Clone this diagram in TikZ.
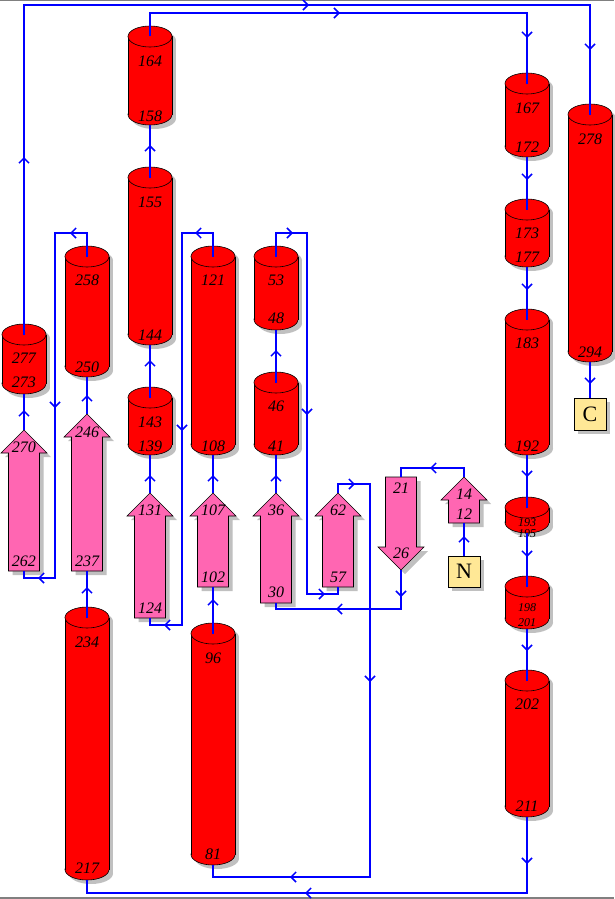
\documentclass[tikz,border=0pt]{standalone}
\usepackage{fontspec}
\setmainfont{Liberation Serif}
\usetikzlibrary{arrows.meta,calc}
\definecolor{hred}{RGB}{255,0,0}
\definecolor{spink}{RGB}{255,102,178}
\definecolor{tbox}{RGB}{255,232,150}
\definecolor{shd}{RGB}{192,192,192}
\tikzset{
  conn/.style={draw=blue,line width=1.5pt},
  tipar/.style={conn,-{Straight Barb[length=5pt,width=10pt]}},
  outl/.style={draw=black,line width=0.6pt},
  lbl/.style={font=\fontsize{16}{16}\selectfont\itshape,inner sep=0pt},
  slbl/.style={font=\fontsize{12}{12}\selectfont\itshape,inner sep=0pt},
  tbx/.style={draw=black,line width=0.6pt,fill=tbox,minimum width=32pt,minimum height=31pt,inner sep=0pt,font=\fontsize{22}{22}\selectfont},
}
% helix: name, x, top, bottom, top text, y, bottom text, y, label style
\newcommand\hlx[9]{%
  \begin{scope}[shift={(4,4)}]
    \fill[shd] (#2-22,#3+10.5) rectangle (#2+22,#4-10.5);
    \fill[shd] (#2,#4-10.5) ellipse[x radius=22,y radius=10.5];
    \fill[shd] (#2,#3+10.5) ellipse[x radius=22,y radius=10.5];
  \end{scope}
  \filldraw[fill=hred,outl] (#2,#4-10.5) ellipse[x radius=22,y radius=10.5];
  \fill[hred] (#2-22,#3+10.5) rectangle (#2+22,#4-10.5);
  \draw[outl] (#2-22,#3+10.5) -- (#2-22,#4-10.5) (#2+22,#3+10.5) -- (#2+22,#4-10.5);
  \filldraw[fill=hred,outl] (#2,#3+10.5) ellipse[x radius=22,y radius=10.5];
  \coordinate (#1-top) at (#2,#3+10.5);
  \coordinate (#1-bot) at (#2,#4);
  \node[#9] (#1-a) at (#2,#6) {#5};
  \node[#9] (#1-b) at (#2,#8) {#7};
}
% up strand: name, x, tip, head base, bottom, top text, y, bottom text, y
\newcommand\strandU[9]{%
  \fill[shd,shift={(4,4)}] (#2-15.5,#5) -- (#2-15.5,#4) -- (#2-23,#4) -- (#2,#3) -- (#2+23,#4) -- (#2+15.5,#4) -- (#2+15.5,#5) -- cycle;
  \filldraw[fill=spink,outl] (#2-15.5,#5) -- (#2-15.5,#4) -- (#2-23,#4) -- (#2,#3) -- (#2+23,#4) -- (#2+15.5,#4) -- (#2+15.5,#5) -- cycle;
  \coordinate (#1-top) at (#2,#3);
  \coordinate (#1-bot) at (#2,#5);
  \node[lbl] (#1-a) at (#2,#7) {#6};
  \node[lbl] (#1-b) at (#2,#9) {#8};
}
\newcommand\arU[2]{\draw[tipar] (#1,#2+6) -- (#1,#2);}
\newcommand\arD[2]{\draw[tipar] (#1,#2-6) -- (#1,#2);}
\newcommand\arL[2]{\draw[tipar] (#1+6,#2) -- (#1,#2);}
\newcommand\arR[2]{\draw[tipar] (#1-6,#2) -- (#1,#2);}
\begin{document}
\begin{tikzpicture}[x=1pt,y=-1pt]
\useasboundingbox (0,0) rectangle (614,899);
\fill[white] (0,0) rectangle (614,899);
\draw[gray,line width=1.2pt] (0,0.6) -- (614,0.6);
\draw[gray,line width=1.2pt] (0,898) -- (614,898);

% helices
\hlx{h164}{150}{26}{125}{164}{61}{158}{116}{lbl}
\hlx{h155}{150}{167}{345}{155}{202}{144}{335}{lbl}
\hlx{h143}{150}{387}{455}{143}{422}{139}{446}{lbl}
\hlx{h277}{24}{324}{394}{277}{358}{273}{382}{lbl}
\hlx{h258}{87}{246}{377}{258}{280}{250}{367}{lbl}
\hlx{h234}{87}{607}{880}{234}{642}{217}{868}{lbl}
\hlx{h121}{213}{246}{455}{121}{280}{108}{446}{lbl}
\hlx{h96}{213}{623}{865}{96}{658}{81}{854}{lbl}
\hlx{h53}{276}{246}{330}{53}{280}{48}{318}{lbl}
\hlx{h46}{276}{372}{455}{46}{406}{41}{446}{lbl}
\hlx{h167}{527}{73}{157}{167}{108}{172}{147}{lbl}
\hlx{h173}{527}{199}{267}{173}{233}{177}{257}{lbl}
\hlx{h183}{527}{309}{455}{183}{343}{192}{446}{lbl}
\hlx{h193}{527}{497}{533}{193}{523}{195}{534}{slbl}
\hlx{h198}{527}{576}{629}{198}{608}{201}{623}{slbl}
\hlx{h202}{527}{670}{817}{202}{704}{211}{806}{lbl}
\hlx{h278}{590}{104}{362}{278}{139}{294}{352}{lbl}

% strands
\strandU{s270}{24}{430}{453}{571}{270}{447}{262}{561}
\strandU{s246}{87}{414}{437}{571}{246}{432}{237}{561}
\strandU{s131}{150}{493}{516}{618}{131}{510}{124}{608}
\strandU{s107}{213}{493}{516}{587}{107}{510}{102}{577}
\strandU{s36}{276}{493}{516}{603}{36}{510}{30}{592}
\strandU{s62}{338}{493}{516}{587}{62}{510}{57}{577}
\strandU{s14}{464}{477}{500}{523}{14}{494}{12}{514}
% down strand 21-26
\fill[shd,shift={(4,4)}] (385.5,477) -- (416.5,477) -- (416.5,547) -- (424,547) -- (401,570) -- (378,547) -- (385.5,547) -- cycle;
\filldraw[fill=spink,outl] (385.5,477) -- (416.5,477) -- (416.5,547) -- (424,547) -- (401,570) -- (378,547) -- (385.5,547) -- cycle;
\coordinate (s21-top) at (401,477);
\coordinate (s21-bot) at (401,570);
\node[lbl] (s21-a) at (401,488) {21};
\node[lbl] (s21-b) at (401,553) {26};

% terminals
\node[tbx,fill=shd,draw=none] (Nshadow) at (468,575.5) {};
\node[tbx] (Nbox) at (464,571.5) {N};
\node[tbx,fill=shd,draw=none,minimum height=32pt] (Cshadow) at (594,418) {};
\node[tbx,minimum height=32pt] (Cbox) at (590,414) {C};

% route corners
\coordinate (r2) at (464,468);
\coordinate (r3) at (401,609);
\coordinate (r6a) at (307,233);
\coordinate (r6b) at (307,594);
\coordinate (r7a) at (370,484);
\coordinate (r7b) at (370,877);
\coordinate (r10a) at (182,233);
\coordinate (r10b) at (182,625);
\coordinate (r14) at (150,13);
\coordinate (r20) at (87,893);
\coordinate (r23a) at (55,233);
\coordinate (r23b) at (55,578);
\coordinate (r25) at (24,5);

% connectors
\draw[conn] (Nbox.north) -- (s14-bot);
\draw[conn] (s14-top) -- (r2) -| (s21-top);
\draw[conn] (s21-bot) -- (r3) -| (s36-bot);
\draw[conn] (s36-top) -- (h46-bot);
\draw[conn] (h46-top) -- (h53-bot);
\draw[conn] (h53-top) |- (r6a) -- (r6b) -| (s62-bot);
\draw[conn] (s62-top) |- (r7a) -- (r7b) -| (h96-bot);
\draw[conn] (h96-top) -- (s107-bot);
\draw[conn] (s107-top) -- (h121-bot);
\draw[conn] (h121-top) |- (r10a) -- (r10b) -| (s131-bot);
\draw[conn] (s131-top) -- (h143-bot);
\draw[conn] (h143-top) -- (h155-bot);
\draw[conn] (h155-top) -- (h164-bot);
\draw[conn] (h164-top) -- (r14) -| (h167-top);
\draw[conn] (h167-bot) -- (h173-top);
\draw[conn] (h173-bot) -- (h183-top);
\draw[conn] (h183-bot) -- (h193-top);
\draw[conn] (h193-bot) -- (h198-top);
\draw[conn] (h198-bot) -- (h202-top);
\draw[conn] (h202-bot) |- (r20) -- (h234-bot);
\draw[conn] (h234-top) -- (s246-bot);
\draw[conn] (s246-top) -- (h258-bot);
\draw[conn] (h258-top) |- (r23a) -- (r23b) -| (s270-bot);
\draw[conn] (s270-top) -- (h277-bot);
\draw[conn] (h277-top) -- (r25) -| (h278-top);
\draw[conn] (h278-bot) -- (Cbox.north);

% direction marks
\arU{464}{536}
\arL{430}{468}
\arD{401}{597} \arL{336}{609}
\arU{276}{475}
\arU{276}{350}
\arR{293}{233} \arD{307}{415} \arR{325}{594}
\arR{355}{484} \arD{370}{682} \arL{290}{877}
\arU{213}{599}
\arU{213}{475}
\arL{195}{233} \arD{182}{431} \arL{164}{625}
\arU{150}{475}
\arU{150}{360}
\arU{150}{145}
\arR{340}{13} \arD{527}{38}
\arD{527}{180}
\arD{527}{290}
\arD{527}{477}
\arD{527}{557}
\arD{527}{651}
\arD{527}{864} \arL{305}{893}
\arU{87}{587}
\arU{87}{395}
\arL{70}{233} \arD{55}{408} \arL{38}{578}
\arU{24}{410}
\arU{24}{157} \arR{309}{5} \arD{590}{50}
\arD{590}{384}
\end{tikzpicture}
\end{document}
